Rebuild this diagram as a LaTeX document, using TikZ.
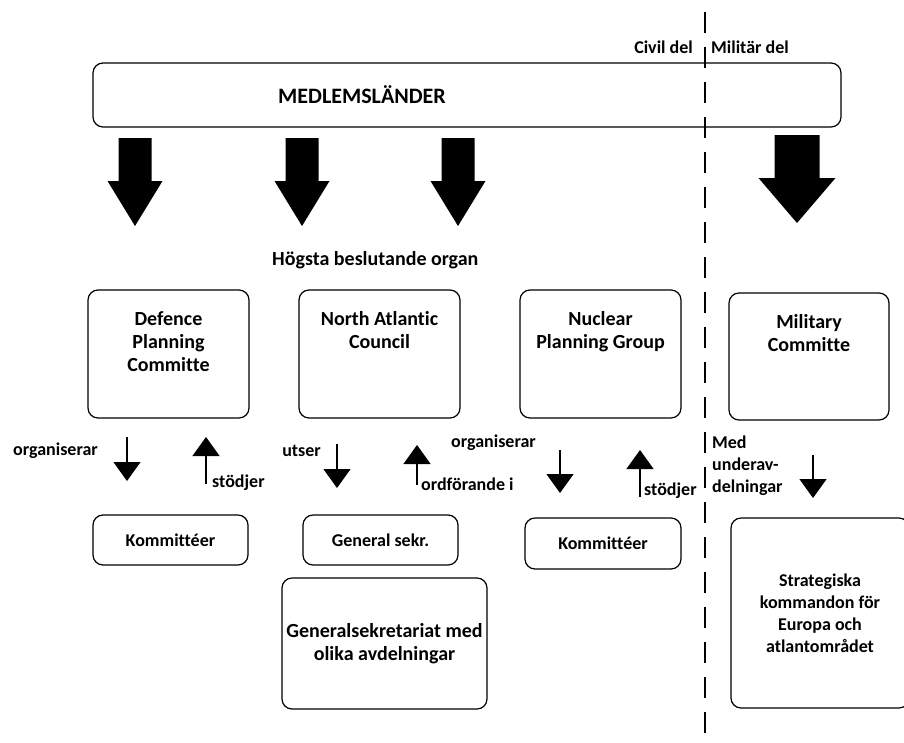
\documentclass[tikz,border=0pt]{standalone}
\usepackage{fontspec}
\setmainfont{Carlito}[Ligatures=CommonOff]
\usetikzlibrary{arrows.meta,positioning}

\tikzset{
  box/.style={draw, rounded corners=10pt, line width=1.2pt, inner sep=0pt, outer sep=0pt},
  title/.style={align=center, font=\fontsize{20}{23}\selectfont\bfseries, inner sep=0pt},
  small/.style={align=center, font=\fontsize{18}{22}\selectfont\bfseries, inner sep=0pt},
  link/.style={line width=1.2pt, -{Triangle[width=27pt,length=19pt]}},
}

% block arrow: x, top, half shaft width, half head width
\newcommand{\blockarrow}[4]{%
  \fill (#1-#3,#2) -- (#1+#3,#2) -- (#1+#3,#2+43) -- (#1+#4,#2+43)
    -- (#1,#2+88) -- (#1-#4,#2+43) -- (#1-#3,#2+43) -- cycle;}

\begin{document}
\begin{tikzpicture}[x=1pt, y=-1pt]
    \useasboundingbox (0,0) rectangle (904,742);
    \clip (0,0) rectangle (904,742);

    % Medlemslaender
    \node[box, minimum width=748pt, minimum height=64pt] (members) at (467,95) {};
    \node[title, font=\fontsize{22}{26}\selectfont\bfseries] (membersText) at (362,95) {MEDLEMSLÄNDER};

    % Civil / militaer
    \draw[dash pattern=on 21pt off 14pt, line width=1.5pt] (705,12) -- (705,742);
    \node[small, anchor=east] (civil) at (693,47) {Civil del};
    \node[small, anchor=west] (military) at (711,47) {Militär del};

    % Big arrows
    \blockarrow{135}{138}{16.5}{27.5}
    \blockarrow{302}{138}{16.5}{27.5}
    \blockarrow{458}{138}{16.5}{27.5}
    \blockarrow{797}{135}{22.5}{38.5}

    \node[title, anchor=west] (highest) at (272,260) {Högsta beslutande organ};

    % Defence Planning Committe
    \node[box, minimum width=161pt, minimum height=128pt] (dpc) at (168.5,354) {};
    \node[title, below=21pt of dpc.north] (dpcText) {Defence\\Planning\\Committe};

    % North Atlantic Council
    \node[box, minimum width=161pt, minimum height=128pt] (nac) at (379.5,354) {};
    \node[title, below=21pt of nac.north] (nacText) {North Atlantic\\Council};

    % Nuclear Planning Group
    \node[box, minimum width=161pt, minimum height=128pt] (npg) at (600.5,354) {};
    \node[title, below=21pt of npg.north] (npgText) {Nuclear\\Planning Group};

    % Military Committe
    \node[box, minimum width=160pt, minimum height=127pt] (mc) at (809,356.5) {};
    \node[title, below=21pt of mc.north] (mcText) {Military\\Committe};

    % Lower boxes
    \node[box, small, minimum width=155pt, minimum height=50pt] (komA) at (170.5,540) {Kommittéer};
    \node[box, small, minimum width=155pt, minimum height=50pt] (gsek) at (380.5,540) {General sekr.};
    \node[box, small, minimum width=156pt, minimum height=51pt] (komB) at (603,543.5) {Kommittéer};
    \node[box, title, minimum width=205pt, minimum height=131pt] (gsekr) at (384.5,643.5) {Generalsekretariat med\\olika avdelningar};
    \node[box, small, minimum width=178pt, minimum height=190pt] (strat) at (820,613) {Strategiska\\kommandon för\\Europa och\\atlantområdet};

    % Arrow ends
    \coordinate (dpcDownA) at (127,437);  \coordinate (dpcDownB) at (127,481);
    \coordinate (dpcUpA) at (206,484);    \coordinate (dpcUpB) at (206,437);
    \coordinate (nacDownA) at (337,444);  \coordinate (nacDownB) at (337,488);
    \coordinate (nacUpA) at (417,485);    \coordinate (nacUpB) at (417,445);
    \coordinate (npgDownA) at (560,450);  \coordinate (npgDownB) at (560,493);
    \coordinate (npgUpA) at (640,497);    \coordinate (npgUpB) at (640,450);
    \coordinate (mcDownA) at (813,455);   \coordinate (mcDownB) at (813,498);

    % Arrows
    \draw[link] (dpcDownA) -- (dpcDownB);
    \draw[link] (dpcUpA) -- (dpcUpB);
    \draw[link] (nacDownA) -- (nacDownB);
    \draw[link] (nacUpA) -- (nacUpB);
    \draw[link] (npgDownA) -- (npgDownB);
    \draw[link] (npgUpA) -- (npgUpB);
    \draw[link] (mcDownA) -- (mcDownB);

    % Arrow labels
    \node[small, anchor=east] (orgA) at (98,451) {organiserar};
    \node[small, anchor=west] (supA) at (212,483) {stödjer};
    \node[small, anchor=east] (elects) at (321,451) {utser};
    \node[small, anchor=west] (chair) at (421,484) {ordförande i};
    \node[small, anchor=west] (orgB) at (451,443) {organiserar};
    \node[small, anchor=west] (supB) at (644,491) {stödjer};
    \node[small, align=left, anchor=west] (subdiv) at (712,466) {Med\\underav-\\delningar};
\end{tikzpicture}
\end{document}
